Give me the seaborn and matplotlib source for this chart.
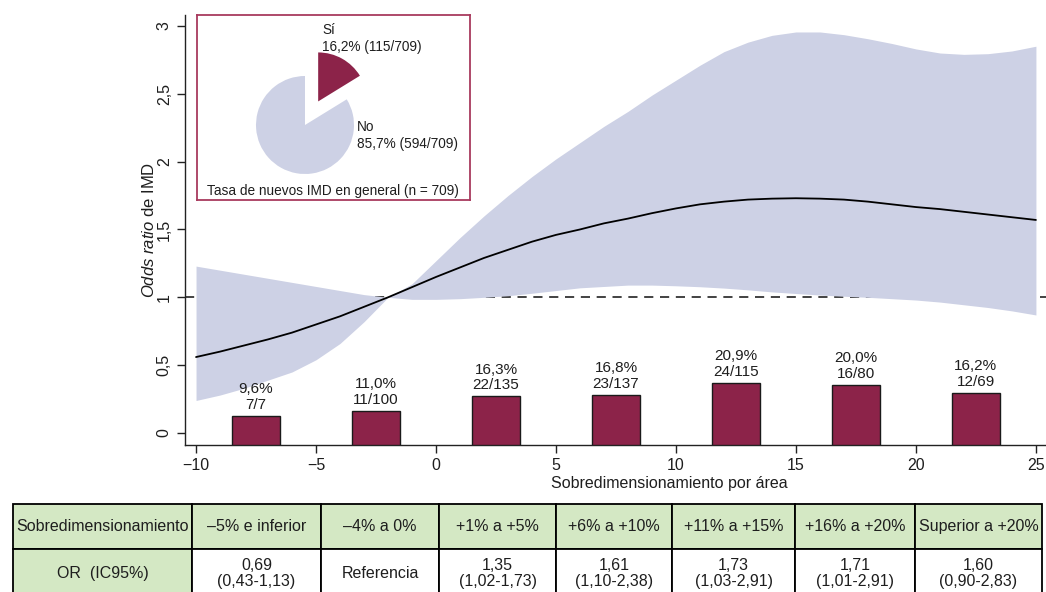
import matplotlib
matplotlib.use("Agg")
import matplotlib.pyplot as plt
import seaborn as sns
import pandas as pd
from matplotlib.patches import Rectangle

# ---------------- data ----------------
grid_x = [-10, -9, -8, -7, -6, -5, -4, -3, -2, -1, 0, 1, 2, 3, 4, 5, 6, 7, 8, 9, 10, 11, 12, 13, 14, 15, 16,
          17, 18, 19, 20, 21, 22, 23, 24, 25]
or_line = [0.56, 0.60, 0.645, 0.69, 0.74, 0.80, 0.86, 0.93, 1.00, 1.075, 1.15, 1.22, 1.29, 1.35, 1.41, 1.46, 1.50,
           1.545, 1.58, 1.62, 1.655, 1.685, 1.705, 1.72, 1.727, 1.73, 1.727, 1.72, 1.705, 1.685, 1.665, 1.65,
           1.63, 1.61, 1.59, 1.57]
ci_lower = [0.24, 0.28, 0.33, 0.39, 0.45, 0.54, 0.66, 0.82, 1.00, 0.985, 0.985, 0.99, 1.0, 1.012, 1.03, 1.05,
            1.07, 1.08, 1.09, 1.09, 1.085, 1.078, 1.068, 1.055, 1.04, 1.028, 1.017, 1.008, 1.0, 0.99, 0.98,
            0.965, 0.945, 0.925, 0.90, 0.87]
ci_upper = [1.23, 1.20, 1.17, 1.14, 1.11, 1.08, 1.05, 1.02, 1.00, 1.10, 1.27, 1.44, 1.60, 1.75, 1.89, 2.02, 2.14,
            2.26, 2.37, 2.49, 2.60, 2.71, 2.81, 2.88, 2.93, 2.955, 2.955, 2.935, 2.905, 2.87, 2.83, 2.80, 2.79,
            2.795, 2.815, 2.85]

bar_centers = [-7.5, -2.5, 2.5, 7.5, 12.5, 17.5, 22.5]
bar_tops = [0.125, 0.162, 0.27, 0.28, 0.368, 0.354, 0.295]
bar_rate_labels = ["9,6%", "11,0%", "16,3%", "16,8%", "20,9%", "20,0%", "16,2%"]
bar_count_labels = ["7/7", "11/100", "22/135", "23/137", "24/115", "16/80", "12/69"]

pie_names = ["Sí", "No"]
pie_counts = [115, 594]
pie_texts = ["16,2% (115/709)", "85,7% (594/709)"]
pie_title = "Tasa de nuevos IMD en general (n = 709)"

x_ticks = [-10, -5, 0, 5, 10, 15, 20, 25]
x_tick_labels = ["\u221210", "\u22125", "0", "5", "10", "15", "20", "25"]
y_ticks = [0, 0.5, 1, 1.5, 2, 2.5, 3]
y_tick_labels = ["0", "0,5", "1", "1,5", "2", "2,5", "3"]

table_header = ["Sobredimensionamiento", "\u20135% e inferior", "\u20134% a 0%", "+1% a +5%", "+6% a +10%",
                "+11% a +15%", "+16% a +20%", "Superior a +20%"]
table_row = ["OR  (IC95%)", "0,69\n(0,43-1,13)", "Referencia", "1,35\n(1,02-1,73)", "1,61\n(1,10-2,38)",
             "1,73\n(1,03-2,91)", "1,71\n(1,01-2,91)", "1,60\n(0,90-2,83)"]

# ---------------- style ----------------
sns.set_theme(style="white")
plt.rcParams['font.family'] = ['Liberation Sans', 'DejaVu Sans']
plt.rcParams['mathtext.fontset'] = 'custom'
plt.rcParams['mathtext.rm'] = 'Liberation Sans'
plt.rcParams['mathtext.it'] = 'Liberation Sans:italic'

MAROON = '#8c2349'
BAND = '#cdd1e5'
GREEN = '#d4e8c4'
TXT = '#1e1e1e'

W, H = 1046, 592
fig = plt.figure(figsize=(W / 100, H / 100), dpi=100)


def fr(x0, y0, x1, y1):
    return [x0 / W, 1 - y1 / H, (x1 - x0) / W, (y1 - y0) / H]


# ---------------- main axes ----------------
ax = fig.add_axes(fr(185, 15, 1046, 445))
YLO, YHI = -0.088, 3.08
ax.set_xlim(-10.46, 25.42)
ax.set_ylim(YLO, YHI)

ax.axhline(1, color='#222222', lw=1.2, dashes=(5.5, 4), zorder=1)
ax.fill_between(grid_x, ci_lower, ci_upper, color=BAND, lw=0, zorder=2)
df = pd.DataFrame({'x': grid_x, 'or': or_line})
sns.lineplot(data=df, x='x', y='or', color='black', lw=1.3, ax=ax, zorder=3)

ax.bar(bar_centers, [t - YLO for t in bar_tops], bottom=YLO, width=2.0, color=MAROON,
       edgecolor='#1a1a1a', lw=1.0, zorder=4)
for xc, top, r, c in zip(bar_centers, bar_tops, bar_rate_labels, bar_count_labels):
    ax.annotate(f"{r}\n{c}", (xc, top), xytext=(0, 3), textcoords='offset points', ha='center',
                va='bottom', fontsize=11, linespacing=1.15, color=TXT, zorder=5)

ax.spines[['top', 'right']].set_visible(False)
for s in ['left', 'bottom']:
    ax.spines[s].set_color('#222222')
    ax.spines[s].set_linewidth(1.0)

ax.set_xticks(x_ticks)
ax.set_xticklabels(x_tick_labels)
ax.set_yticks(y_ticks)
ax.set_yticklabels(y_tick_labels)
ax.tick_params(axis='both', direction='out', length=6, width=1, color='#222222', labelsize=11.5,
               labelcolor=TXT, left=True, bottom=True, pad=3.5)
for lab in ax.get_yticklabels():
    lab.set_rotation(90)
    lab.set_va('center')

ax.set_xlabel("Sobredimensionamiento por área", fontsize=11.5, color=TXT)
ax.xaxis.set_label_coords(0.562, -0.072)
ax.set_ylabel(r"$\mathit{Odds\ ratio}$ de IMD", fontsize=12, color=TXT)
ax.yaxis.set_label_coords(-0.0325, 0.5)

# ---------------- pie inset ----------------
ax_in = fig.add_axes(fr(197, 15, 470, 200))
ax_in.pie(pie_counts, colors=[MAROON, BAND], startangle=90, counterclock=False, explode=[27, 0],
          radius=49, center=(108, 75), frame=True, wedgeprops=dict(lw=0))
ax_in.set_xlim(0, 273)
ax_in.set_ylim(0, 185)
ax_in.set_aspect('auto')
ax_in.set_xticks([])
ax_in.set_yticks([])
ax_in.set_facecolor('white')
for s in ax_in.spines.values():
    s.set_visible(True)
    s.set_color('#a83a5e')
    s.set_linewidth(1.3)
ax_in.text(125, 170, pie_names[0], ha='left', va='center', fontsize=9.8, color=TXT)
ax_in.text(125, 153, pie_texts[0], ha='left', va='center', fontsize=9.8, color=TXT)
ax_in.text(160, 73, pie_names[1], ha='left', va='center', fontsize=9.8, color=TXT)
ax_in.text(160, 56, pie_texts[1], ha='left', va='center', fontsize=9.8, color=TXT)
ax_in.text(136, 9, pie_title, ha='center', va='center', fontsize=9.8, color=TXT)

# ---------------- table ----------------
ax_t = fig.add_axes([0, 0, 1, 1])
ax_t.set_xlim(0, W)
ax_t.set_ylim(H, 0)
ax_t.axis('off')
ax_t.patch.set_alpha(0)
col_edges = [13, 192, 321, 439, 556, 672, 795, 915, 1042]
row_edges = [504, 549, 596]
for ri, row in enumerate([table_header, table_row]):
    y0, y1 = row_edges[ri], row_edges[ri + 1]
    for ci, txt in enumerate(row):
        x0, x1 = col_edges[ci], col_edges[ci + 1]
        fc = GREEN if (ri == 0 or ci == 0) else 'white'
        ax_t.add_patch(Rectangle((x0, y0), x1 - x0, y1 - y0, facecolor=fc, edgecolor='black', lw=1.3,
                                 clip_on=False))
        ax_t.text((x0 + x1) / 2, (y0 + y1) / 2 + (1 if ri == 1 else 0), txt, ha='center', va='center',
                  fontsize=11.5, linespacing=1.05, color=TXT)

fig.savefig("out.png", dpi=100)
